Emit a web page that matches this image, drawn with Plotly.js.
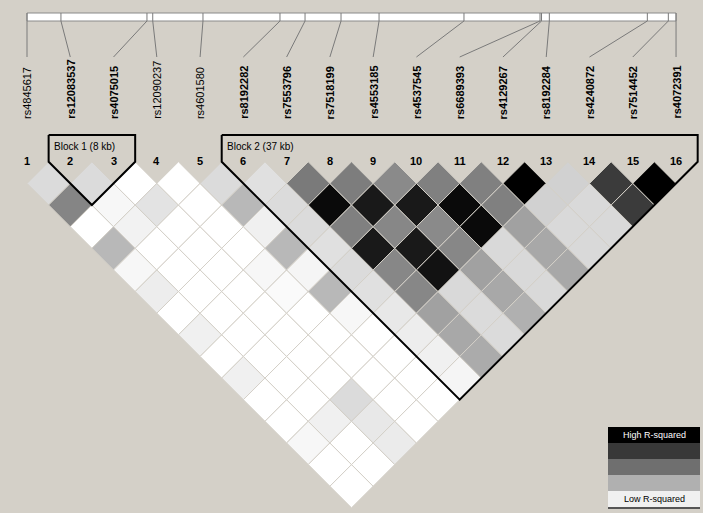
<!DOCTYPE html>
<html>
<head>
<meta charset="utf-8">
<script src="https://cdn.plot.ly/plotly-3.0.1.min.js"></script>
<style>
  html, body { margin: 0; padding: 0; background: #d4d0c8; }
  #ldPlot { width: 703px; height: 513px; }
</style>
</head>
<body>
<div id="ldPlot"></div>
<script>
// SNP markers, in map order
const snpNames = [
    "rs4845617", "rs12083537", "rs4075015", "rs12090237", "rs4601580", "rs8192282",
    "rs7553796", "rs7518199", "rs4553185", "rs4537545", "rs6689393", "rs4129267",
    "rs8192284", "rs4240872", "rs7514452", "rs4072391"
];
// relative physical position (kb) of each marker on the top bar
const physKb = [0, 3.17, 11.2, 11.74, 16.43, 23.62, 25.96, 29.32, 32.87, 40.8, 47.9, 48.04, 48.77, 57.92, 59.88, 60.6];

// haplotype blocks (marker numbers, 1-based)
const blockStarts = [2, 6];
const blockEnds = [3, 16];
const blockLabels = ["Block 1 (8 kb)", "Block 2 (37 kb)"];

// pairwise r-squared, row i holds pairs (i, i+1) ... (i, 16)
const rsq = [
    [0.14, 0.48, 0, 0.28, 0.03, 0.07, 0, 0.06, 0, 0.06, 0, 0, 0.03, 0, 0],
    [0.14, 0.03, 0.05, 0, 0, 0, 0, 0, 0, 0, 0, 0.06, 0, 0],
    [0, 0.11, 0, 0, 0, 0, 0, 0, 0, 0, 0.14, 0.09, 0.08],
    [0, 0, 0, 0, 0.03, 0.02, 0, 0, 0, 0, 0, 0],
    [0.14, 0.28, 0.06, 0.28, 0.04, 0.28, 0.03, 0, 0, 0, 0],
    [0.12, 0.14, 0.14, 0.12, 0.14, 0.12, 0.09, 0.07, 0.06, 0.04],
    [0.52, 0.96, 0.5, 0.9, 0.47, 0.47, 0.37, 0.34, 0.33],
    [0.51, 0.9, 0.47, 0.9, 0.93, 0.15, 0.14, 0.14],
    [0.46, 0.9, 0.46, 0.47, 0.37, 0.34, 0.31],
    [0.5, 0.96, 0.96, 0.15, 0.15, 0.15],
    [0.5, 0.5, 0.37, 0.34, 0.34],
    [1.0, 0.18, 0.15, 0.15],
    [0.18, 0.15, 0.15],
    [0.77, 0.77],
    [1.0]
];

// colour key
const legendColors = ["#000000", "#383838", "#6f6f6f", "#b0b0b0", "#f0f0f0"];
const legendLabels = ["High R-squared", "", "", "", "Low R-squared"];

const BG = "#d4d0c8";
const FONT = "Liberation Sans, Arial, sans-serif";

// vertical layout levels (units of half a box diagonal)
const BAR_TOP = -6.878, BAR_BOTTOM = -6.508, LINK_END = -4.844;
const NAME_BASE = -1.885, BLOCK_TOP = -1.238, BLOCK_TEXT = -0.729, NUM_Y = -0.04;

function shade(r2) {
    const g = Math.round(255 * (1 - r2));
    return `rgb(${g},${g},${g})`;
}

function inBlock(m) {
    return blockStarts.some((s, b) => m >= s && m <= blockEnds[b]);
}

function drawLD() {
    const n = snpNames.length;
    const traces = [];

    // LD boxes
    rsq.forEach((row, a) => {
        row.forEach((r2, k) => {
            const i = a + 1, j = i + 1 + k;
            const cx = (i + j) / 2, cy = j - i;
            traces.push({
                type: "scatter", mode: "lines",
                x: [cx - 0.5, cx, cx + 0.5, cx, cx - 0.5],
                y: [cy, cy - 1, cy, cy + 1, cy],
                fill: "toself", fillcolor: shade(r2),
                line: { color: BG, width: 1 },
                hoverinfo: "skip", showlegend: false
            });
        });
    });

    // block outlines
    blockStarts.forEach((a, b) => {
        const e = blockEnds[b];
        traces.push({
            type: "scatter", mode: "lines",
            x: [a - 0.5, e + 0.5, e + 0.5, (a + e) / 2, a - 0.5, a - 0.5],
            y: [BLOCK_TOP, BLOCK_TOP, 0, e - a + 1, 0, BLOCK_TOP],
            line: { color: "#000000", width: 2 },
            hoverinfo: "skip", showlegend: false
        });
    });

    // ticks on the physical map + connectors to the marker columns
    const lx = [], ly = [];
    physKb.forEach((kb, idx) => {
        const u = 1 + kb / physKb[n - 1] * (n - 1);
        lx.push(u, u, idx + 1, null);
        ly.push(BAR_TOP, BAR_BOTTOM, LINK_END, null);
    });
    traces.push({
        type: "scatter", mode: "lines", x: lx, y: ly,
        line: { color: "#7a7a7a", width: 1 },
        hoverinfo: "skip", showlegend: false
    });

    // colour key
    traces.push({
        type: "heatmap", xaxis: "x2", yaxis: "y2",
        z: legendColors.map((c, k) => [k]),
        x: [0], y: legendColors.map((c, k) => k),
        zmin: 0, zmax: legendColors.length - 1,
        colorscale: legendColors.map((c, k) => [k / (legendColors.length - 1), c]),
        showscale: false, hoverinfo: "skip"
    });

    const annotations = [];
    snpNames.forEach((name, idx) => {
        const m = idx + 1;
        annotations.push({
            x: m, y: NAME_BASE, xref: "x", yref: "y",
            text: inBlock(m) ? `<b>${name}</b>` : name,
            textangle: -90, showarrow: false,
            xanchor: "center", yanchor: "bottom",
            font: { family: FONT, size: 11, color: "#000" }
        });
        annotations.push({
            x: m, y: NUM_Y, xref: "x", yref: "y",
            text: `<b>${m}</b>`, showarrow: false,
            xanchor: "center", yanchor: "middle",
            font: { family: FONT, size: 11, color: "#000" }
        });
    });
    blockLabels.forEach((lab, b) => {
        annotations.push({
            x: blockStarts[b] - 0.43, y: BLOCK_TEXT, xref: "x", yref: "y",
            text: lab, showarrow: false,
            xanchor: "left", yanchor: "middle",
            font: { family: FONT, size: 10, color: "#000" }
        });
    });
    legendLabels.forEach((lab, k) => {
        if (!lab) return;
        annotations.push({
            x: 0, y: k, xref: "x2", yref: "y2",
            text: lab, showarrow: false,
            font: { family: FONT, size: 9, color: k === 0 ? "#ffffff" : "#000000" }
        });
    });

    const layout = {
        width: 703, height: 513,
        margin: { l: 0, r: 0, t: 0, b: 0 },
        paper_bgcolor: BG, plot_bgcolor: BG,
        showlegend: false,
        xaxis: { range: [0.376, 16.623], visible: false, fixedrange: true },
        yaxis: { range: [16.238, -7.479], visible: false, fixedrange: true },
        xaxis2: {
            domain: [608 / 703, 700 / 703], anchor: "y2", range: [-0.5, 0.5],
            showgrid: false, zeroline: false, showticklabels: false, ticks: "",
            showline: true, linecolor: "#555555", linewidth: 2, fixedrange: true
        },
        yaxis2: {
            domain: [6 / 513, 86 / 513], anchor: "x2", range: [4.5, -0.5],
            visible: false, fixedrange: true
        },
        shapes: [{
            type: "rect", xref: "x", yref: "y", layer: "below",
            x0: 1, x1: n, y0: BAR_TOP, y1: BAR_BOTTOM,
            fillcolor: "#ffffff", line: { color: "#8a8a8a", width: 1 }
        }],
        annotations: annotations
    };

    Plotly.newPlot("ldPlot", traces, layout, { displayModeBar: false, staticPlot: true });
}

drawLD();
</script>
</body>
</html>
